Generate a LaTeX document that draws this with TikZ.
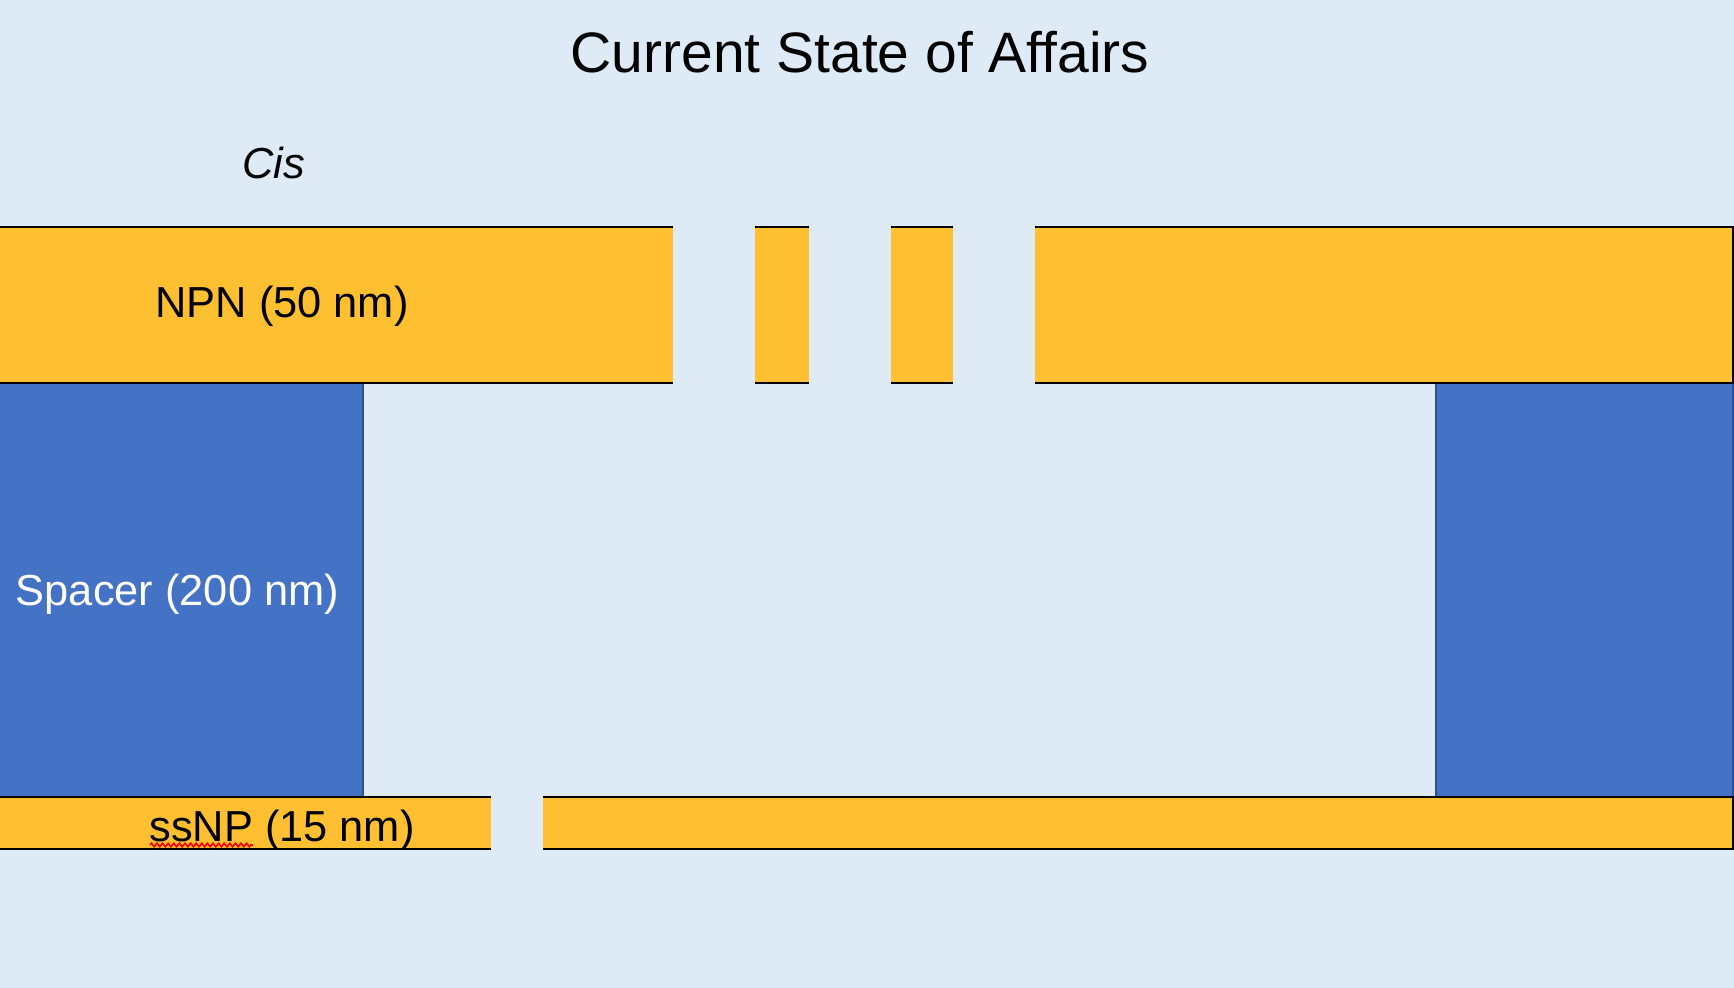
\documentclass[tikz,border=0pt]{standalone}
\usepackage{fontspec}
\setmainfont{Liberation Sans}
\usetikzlibrary{decorations.pathmorphing}
\definecolor{bgblue}{HTML}{DEEBF7}
\definecolor{goldbar}{HTML}{FEC030}
\definecolor{spacerblue}{HTML}{4472C4}
\definecolor{spacerline}{HTML}{2F528F}
\tikzset{
  barstyle/.style={fill=goldbar, draw=black, line width=1pt},
  gapstyle/.style={fill=bgblue, draw=none},
  spacerstyle/.style={fill=spacerblue, draw=spacerline, line width=0.8pt},
  labelstyle/.style={anchor=base, inner sep=0pt, font=\fontsize{21.7}{26}\selectfont},
}
\begin{document}
\begin{tikzpicture}[x=0.5pt, y=-0.5pt]
\useasboundingbox (0,0) rectangle (1734,988);
\fill[bgblue] (0,0) rectangle (1734,988);
% spacers
\draw[spacerstyle] (-10,383) rectangle (363,797);
\draw[spacerstyle] (1436,383) rectangle (1733,797);
% NPN bar with gaps
\draw[barstyle] (-10,227) rectangle (1733,383);
\fill[gapstyle] (673,218) rectangle (755,392);
\fill[gapstyle] (809,218) rectangle (891,392);
\fill[gapstyle] (953,218) rectangle (1035,392);
% ssNP bar with gap
\draw[barstyle] (-10,797) rectangle (1733,849);
\fill[gapstyle] (491,790) rectangle (543,856);
% texts
\node[anchor=base, inner sep=0pt, font=\fontsize{28.5}{34}\selectfont] (title) at (860,73) {Current State of Affairs};
\node[labelstyle, font=\fontsize{21.7}{26}\selectfont\itshape] (cis) at (274,179) {Cis};
\node[labelstyle] (npn) at (282,318) {NPN (50 nm)};
\node[labelstyle, text=white] (spacer) at (177.5,605) {Spacer (200 nm)};
\node[labelstyle] (ssnp) at (282,841) {ssNP (15 nm)};
\draw[red, line width=0.8pt, decorate, decoration={zigzag, segment length=2.8pt, amplitude=0.9pt}] (150,845) -- (253,845);
\end{tikzpicture}
\end{document}
